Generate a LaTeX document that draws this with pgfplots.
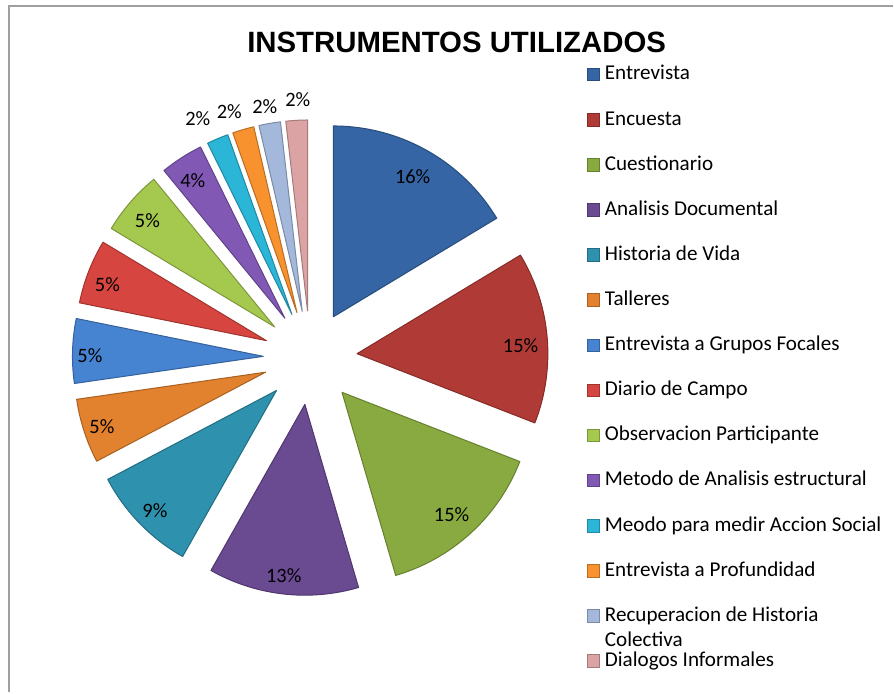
\documentclass[border=0pt]{standalone}
\usepackage{pgfplots}
\usepackage{pgfplotstable}
\pgfplotsset{compat=1.18}
\usepackage{fontspec}
\setmainfont{Carlito}
\newfontfamily\titlefont{Liberation Sans}
\newcommand\lblfont{\fontsize{20.5}{24}\selectfont}
\newcommand\legfont{\fontsize{21.2}{25}\selectfont}

\definecolor{c1}{HTML}{3565A5}
\definecolor{c2}{HTML}{B03A36}
\definecolor{c3}{HTML}{88AA40}
\definecolor{c4}{HTML}{6A4A91}
\definecolor{c5}{HTML}{2E91AD}
\definecolor{c6}{HTML}{E2812E}
\definecolor{c7}{HTML}{4683D0}
\definecolor{c8}{HTML}{D6453F}
\definecolor{c9}{HTML}{A5C94F}
\definecolor{c10}{HTML}{8159B5}
\definecolor{c11}{HTML}{2BB6D8}
\definecolor{c12}{HTML}{F7922E}
\definecolor{c13}{HTML}{A4B8DC}
\definecolor{c14}{HTML}{DCA3A4}

% value = share in percent; lx, ly = label position (image pixels)
\pgfplotstableread[col sep=comma]{
name,value,color,lx,ly
Entrevista,16.36,c1,413,177
Encuesta,14.55,c2,521,346
Cuestionario,14.55,c3,452,515
Analisis Documental,12.73,c4,284,576
Historia de Vida,9.09,c5,155,511
Talleres,5.45,c6,102,427
Entrevista a Grupos Focales,5.45,c7,90,356
Diario de Campo,5.45,c8,107.5,285
Observacion Participante,5.45,c9,147.5,221
Metodo de Analisis estructural,3.64,c10,193,181
Meodo para medir Accion Social,1.82,c11,198,119
Entrevista a Profundidad,1.82,c12,229.5,112
Recuperacion de Historia Colectiva,1.82,c13,265,107
Dialogos Informales,1.82,c14,298,100
}\piedata

\pgfplotsset{legsq/.style={legend image code/.code={\path[##1] (0bp,-6bp) rectangle (12.5bp,6.5bp);}}}

\begin{document}
\begin{tikzpicture}
\begin{axis}[
  scale only axis, width=894bp, height=693bp,
  xmin=0, xmax=894, ymin=0, ymax=693, y dir=reverse,
  hide axis, clip=false,
  legend cell align=left,
  legend style={at={(axis cs:587,64)}, anchor=north west, draw=none, fill=none,
    inner sep=0pt, outer sep=0pt, row sep=23.85bp, column sep=5.5bp,
    font=\legfont, nodes={inner sep=0pt, text height=16bp, text depth=5.3bp}},
]
\path (axis cs:0,0) rectangle (axis cs:894,693);
\draw[gray!75, line width=1.5bp] (axis cs:9,693) -- (axis cs:9,6) -- (axis cs:894,6);

\def\cx{310.5}\def\cy{358}\def\dd{47}\def\R{191}
\def\cum{0}
\pgfplotstablegetrowsof{\piedata}
\pgfmathtruncatemacro{\nrows}{\pgfplotsretval-1}
\pgfplotsforeachungrouped \i in {0,...,\nrows}{%
  \pgfplotstablegetelem{\i}{value}\of{\piedata}\let\val\pgfplotsretval
  \pgfplotstablegetelem{\i}{color}\of{\piedata}\let\col\pgfplotsretval
  \pgfplotstablegetelem{\i}{lx}\of{\piedata}\let\lx\pgfplotsretval
  \pgfplotstablegetelem{\i}{ly}\of{\piedata}\let\ly\pgfplotsretval
  \pgfmathsetmacro{\sa}{90-3.6*\cum}%
  \pgfmathsetmacro{\ea}{\sa-3.6*\val}%
  \pgfmathsetmacro{\ma}{(\sa+\ea)/2}%
  \pgfmathtruncatemacro{\vi}{round(\val)}%
  \edef\temp{%
    \noexpand\path[fill=\col, draw=\col!75!black, line width=1bp, line join=round]
      ([shift={(\ma:\dd bp)}]axis cs:\cx,\cy) -- ++(\sa:\R bp)
      arc[start angle=\sa, end angle=\ea, radius=\R bp] -- cycle;
    \noexpand\node[font=\noexpand\lblfont] at (axis cs:\lx,\ly) {\vi\noexpand\%};
  }\temp
  \pgfmathsetmacro{\cum}{\cum+\val}%
}

\node[font=\titlefont\fontsize{29.5}{34}\bfseries\selectfont, anchor=base]
  at (axis cs:457,53) {INSTRUMENTOS UTILIZADOS};

\addlegendimage{legsq, fill=c1, draw=c1!75!black}
\addlegendentry{Entrevista}
\addlegendimage{legsq, fill=c2, draw=c2!75!black}
\addlegendentry{Encuesta}
\addlegendimage{legsq, fill=c3, draw=c3!75!black}
\addlegendentry{Cuestionario}
\addlegendimage{legsq, fill=c4, draw=c4!75!black}
\addlegendentry{Analisis Documental}
\addlegendimage{legsq, fill=c5, draw=c5!75!black}
\addlegendentry{Historia de Vida}
\addlegendimage{legsq, fill=c6, draw=c6!75!black}
\addlegendentry{Talleres}
\addlegendimage{legsq, fill=c7, draw=c7!75!black}
\addlegendentry{Entrevista a Grupos Focales}
\addlegendimage{legsq, fill=c8, draw=c8!75!black}
\addlegendentry{Diario de Campo}
\addlegendimage{legsq, fill=c9, draw=c9!75!black}
\addlegendentry{Observacion Participante}
\addlegendimage{legsq, fill=c10, draw=c10!75!black}
\addlegendentry{Metodo de Analisis estructural}
\addlegendimage{legsq, fill=c11, draw=c11!75!black}
\addlegendentry{Meodo para medir Accion Social}
\addlegendimage{legsq, fill=c12, draw=c12!75!black}
\addlegendentry{Entrevista a Profundidad}
\addlegendimage{legsq, fill=c13, draw=c13!75!black}
\addlegendentry{\begin{tabular}[t]{@{}l@{}}Recuperacion de Historia\\Colectiva\end{tabular}}
\addlegendimage{legsq, fill=c14, draw=c14!75!black}
\addlegendentry{Dialogos Informales}
\end{axis}
\end{tikzpicture}
\end{document}
